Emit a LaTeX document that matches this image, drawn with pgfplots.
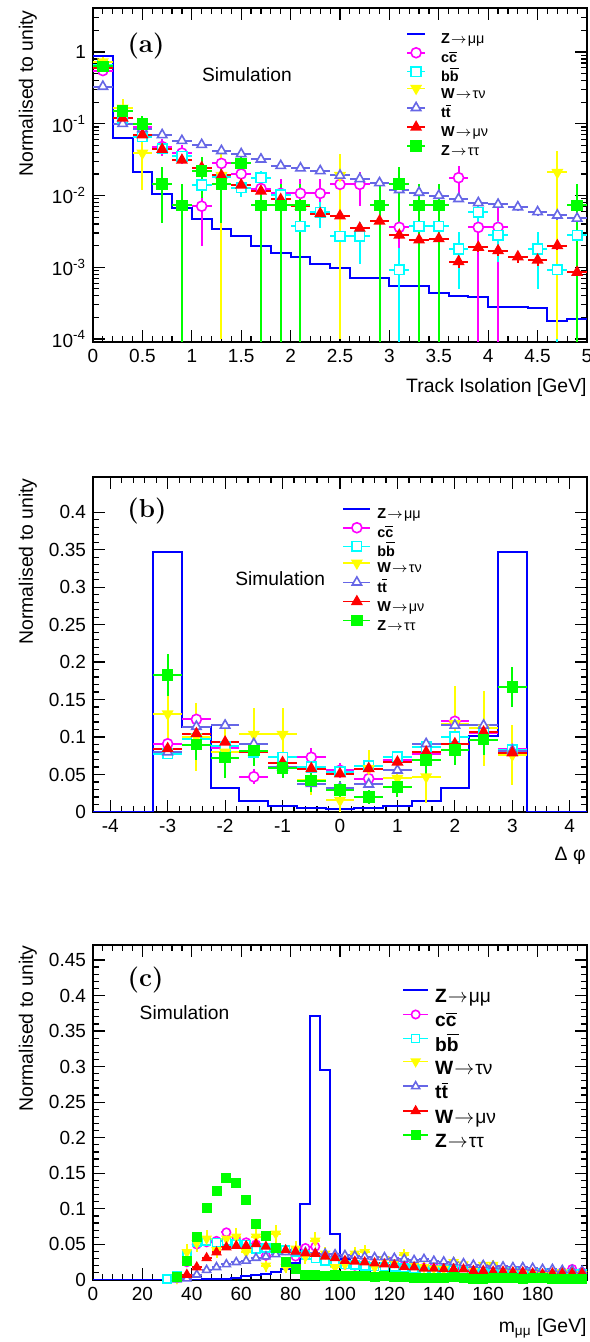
\documentclass[border=0pt]{standalone}
\usepackage{fontspec}
\usepackage{pgfplots}
\pgfplotsset{compat=1.18}
\newfontfamily\arial{Liberation Sans}
\newcommand{\ar}{\kern0.5pt$\rightarrow$\kern0.5pt}
\definecolor{zmm}{RGB}{0,0,255}
\definecolor{ccol}{RGB}{255,0,255}
\definecolor{bcol}{RGB}{0,255,255}
\definecolor{wtcol}{RGB}{255,255,0}
\definecolor{ttcol}{RGB}{102,102,230}
\definecolor{wmcol}{RGB}{255,0,0}
\definecolor{ztcol}{RGB}{0,255,0}
\pgfplotsset{
  common/.style={
    scale only axis, width=247pt, anchor=south west,
    axis line style={line width=0.75pt},
    tick style={black, line width=0.6pt},
    major tick length=6pt, minor tick length=3pt,
    tick label style={font=\arial\fontsize{9.5}{11}\selectfont},
    /pgf/number format/assume math mode=true,
    legend cell align=left,
  },
  sC/.style={only marks, ccol, mark=*, mark size=#1, mark options={fill=white, solid}, line width=0.8pt},
  sB/.style={only marks, bcol, mark=square*, mark size=#1, mark options={fill=white, solid}, line width=0.8pt},
  sWT/.style={only marks, wtcol, mark=triangle*, mark size=#1, mark options={fill=wtcol, rotate=180, solid}, line width=0.8pt},
  sTT/.style={only marks, ttcol, mark=triangle*, mark size=#1, mark options={fill=white, solid}, line width=0.8pt},
  sWM/.style={only marks, wmcol, mark=triangle*, mark size=#1, mark options={fill=wmcol, solid}, line width=0.8pt},
  sZT/.style={only marks, ztcol, mark=square*, mark size=#1, mark options={fill=ztcol, solid}, line width=0.8pt},
  ebxy/.style={/pgfplots/error bars/x dir=both, /pgfplots/error bars/x fixed=#1,
    /pgfplots/error bars/y dir=both, /pgfplots/error bars/y explicit,
    /pgfplots/error bars/error mark=none, /pgfplots/error bars/error bar style={line width=1pt, solid}},
  ebx/.style={/pgfplots/error bars/x dir=both, /pgfplots/error bars/x fixed=#1,
    /pgfplots/error bars/error mark=none, /pgfplots/error bars/error bar style={line width=1pt, solid}},
}
\begin{document}
\begin{tikzpicture}
\path[use as bounding box] (0,0) rectangle (294.5pt,671pt);

%================ (a) =================
\begin{axis}[common, at={(46.5pt,500pt)}, height=167pt,
  ymode=log, xmin=0, xmax=5, ymin=9.1e-5, ymax=4.1,
  xtick={0,0.5,1,1.5,2,2.5,3,3.5,4,4.5,5},
  xticklabels={0,0.5,1,1.5,2,2.5,3,3.5,4,4.5,5},
  minor x tick num=4,
  ytick={1e-4,1e-3,1e-2,1e-1,1},
  yticklabels={10\textsuperscript{-4},10\textsuperscript{-3},10\textsuperscript{-2},10\textsuperscript{-1},1},
  minor ytick={2e-4,3e-4,4e-4,5e-4,6e-4,7e-4,8e-4,9e-4,2e-3,3e-3,4e-3,5e-3,6e-3,7e-3,8e-3,9e-3,2e-2,3e-2,4e-2,5e-2,6e-2,7e-2,8e-2,9e-2,0.2,0.3,0.4,0.5,0.6,0.7,0.8,0.9,2,3,4},
  legend style={at={(0.633,0.931)}, anchor=north west, draw=none, fill=none, inner sep=0pt,
    font=\arial\fontsize{7.2}{8.6}\selectfont, nodes={inner sep=0pt, text height=6pt, text depth=1.5pt},
    row sep=0.67pt, /tikz/every odd column/.append style={column sep=7.5pt}},
  legend image code/.code={\draw[#1,mark=none] (0pt,2.6pt) -- (9pt,2.6pt); \draw[#1] plot coordinates {(4.5pt,2.6pt)};},
]
\addplot[zmm, line width=1pt, const plot] table {
x y
0 0.88
0.2 0.064
0.4 0.021
0.6 0.0106
0.8 0.0066
1.0 0.0047
1.2 0.0034
1.4 0.0027
1.6 0.0020
1.8 0.0016
2.0 0.00138
2.2 0.00111
2.4 0.00099
2.6 0.00072
2.8 0.0007
3.0 0.00055
3.2 0.00054
3.4 0.00044
3.6 0.0004
3.8 0.00039
4.0 0.00028
4.2 0.00028
4.4 0.00027
4.6 0.00018
4.8 0.00019
5.0 0.00019
};
\addlegendentry{\textbf{Z}\ar μμ}
\addplot[sC=2.5pt, ebxy=0.1] table[x=x, y=y, y error plus=ep, y error minus=em] {
x y ep em
0.1 0.55 0.045 0.045
0.3 0.12 0.021 0.021
0.5 0.09 0.018 0.018
0.7 0.048 0.013 0.013
0.9 0.039 0.0118 0.0118
1.1 0.0071 0.0051 0.0051
1.3 0.028 0.010 0.010
1.5 0.020 0.0085 0.0085
1.7 0.0125 0.0067 0.0067
1.9 0.0107 0.0062 0.0062
2.1 0.0107 0.0062 0.0062
2.3 0.0107 0.0062 0.0062
2.5 0.0143 0.0072 0.0072
2.7 0.0143 0.0072 0.0072
3.1 0.0036 0.0036 0.00359
3.7 0.0177 0.008 0.008
3.9 0.0036 0.0036 0.00359
4.1 0.0036 0.0036 0.00359
};
\addlegendentry{\textbf{c}$\overline{\textbf{c}}$}
\addplot[sB=2.4pt, ebxy=0.1] table[x=x, y=y, y error plus=ep, y error minus=em] {
x y ep em
0.1 0.65 0.025 0.025
0.3 0.12 0.0106 0.0106
0.5 0.066 0.0078 0.0078
0.7 0.045 0.0065 0.0065
0.9 0.035 0.0057 0.0057
1.1 0.014 0.0036 0.0036
1.3 0.018 0.0041 0.0041
1.5 0.0128 0.0034 0.0034
1.7 0.0176 0.0040 0.0040
1.9 0.0103 0.0031 0.0031
2.1 0.0037 0.0019 0.0019
2.3 0.0058 0.0023 0.0023
2.5 0.0027 0.0016 0.0016
2.7 0.0027 0.0016 0.0016
3.1 0.00093 0.00093 0.00092
3.3 0.0037 0.0019 0.0019
3.5 0.0037 0.0019 0.0019
3.7 0.0018 0.0013 0.0013
3.9 0.0058 0.0023 0.0023
4.1 0.0028 0.0016 0.0016
4.5 0.0018 0.0013 0.0013
4.7 0.00093 0.00093 0.00092
4.9 0.0028 0.0016 0.0016
};
\addlegendentry{\textbf{b}$\overline{\textbf{b}}$}
\addplot[sWT=2.7pt, ebxy=0.1] table[x=x, y=y, y error plus=ep, y error minus=em] {
x y ep em
0.1 0.73 0.118 0.118
0.3 0.165 0.056 0.056
0.5 0.039 0.027 0.027
1.3 0.019 0.019 0.0189
2.5 0.019 0.019 0.0189
4.7 0.021 0.021 0.0209
};
\addlegendentry{\textbf{W}\ar τν}
\addplot[sTT=2.7pt, ebxy=0.1] table[x=x, y=y, y error plus=ep, y error minus=em] {
x y ep em
0.1 0.33 0.006 0.006
0.3 0.10 0.003 0.003
0.5 0.085 0.003 0.003
0.7 0.070 0.0025 0.0025
0.9 0.058 0.0022 0.0022
1.1 0.051 0.002 0.002
1.3 0.042 0.0019 0.0019
1.5 0.038 0.0018 0.0018
1.7 0.032 0.0016 0.0016
1.9 0.026 0.0015 0.0015
2.1 0.024 0.0014 0.0014
2.3 0.022 0.0013 0.0013
2.5 0.019 0.0012 0.0012
2.7 0.017 0.0012 0.0012
2.9 0.015 0.0011 0.0011
3.1 0.012 0.001 0.001
3.3 0.011 0.001 0.001
3.5 0.010 0.0009 0.0009
3.7 0.0090 0.0009 0.0009
3.9 0.0079 0.0008 0.0008
4.1 0.0075 0.0008 0.0008
4.3 0.0069 0.0008 0.0008
4.5 0.0059 0.0007 0.0007
4.7 0.0053 0.0007 0.0007
4.9 0.0048 0.0007 0.0007
};
\addlegendentry{\textbf{t}$\overline{\textbf{t}}$}
\addplot[sWM=2.7pt, ebxy=0.1] table[x=x, y=y, y error plus=ep, y error minus=em] {
x y ep em
0.1 0.60 0.0049 0.0049
0.3 0.12 0.0022 0.0022
0.5 0.07 0.0017 0.0017
0.7 0.044 0.0013 0.0013
0.9 0.031 0.0011 0.0011
1.1 0.0245 0.001 0.001
1.3 0.019 0.00087 0.00087
1.5 0.014 0.00075 0.00075
1.7 0.0115 0.00068 0.00068
1.9 0.0088 0.00059 0.00059
2.1 0.0071 0.00053 0.00053
2.3 0.0056 0.00047 0.00047
2.5 0.0052 0.00046 0.00046
2.7 0.0035 0.00037 0.00037
2.9 0.0044 0.00042 0.00042
3.1 0.0028 0.00033 0.00033
3.3 0.0024 0.00031 0.00031
3.5 0.0025 0.00032 0.00032
3.7 0.0012 0.00022 0.00022
3.9 0.0019 0.00028 0.00028
4.1 0.0017 0.00026 0.00026
4.3 0.0014 0.00024 0.00024
4.5 0.00126 0.00022 0.00022
4.7 0.0020 0.00028 0.00028
4.9 0.00085 0.00018 0.00018
};
\addlegendentry{\textbf{W}\ar μν}
\addplot[sZT=2.5pt, ebxy=0.1] table[x=x, y=y, y error plus=ep, y error minus=em] {
x y ep em
0.1 0.63 0.068 0.068
0.3 0.15 0.033 0.033
0.5 0.10 0.027 0.027
0.7 0.0145 0.0103 0.0103
0.9 0.0073 0.0073 0.00729
1.1 0.022 0.0127 0.0127
1.3 0.0145 0.0103 0.0103
1.5 0.028 0.0143 0.0143
1.7 0.0073 0.0073 0.00729
1.9 0.0073 0.0073 0.00729
2.1 0.0073 0.0073 0.00729
2.9 0.0073 0.0073 0.00729
3.1 0.0145 0.0103 0.0103
3.3 0.0073 0.0073 0.00729
3.5 0.0073 0.0073 0.00729
4.9 0.0073 0.0073 0.00729
};
\addlegendentry{\textbf{Z}\ar ττ}
\end{axis}

%================ (b) =================
\begin{axis}[common, at={(46.5pt,265pt)}, height=167.5pt,
  xmin=-4.3, xmax=4.3, ymin=0, ymax=0.447,
  xtick={-4,-3,-2,-1,0,1,2,3,4}, xticklabels={-4,-3,-2,-1,0,1,2,3,4},
  minor x tick num=4,
  ytick={0,0.05,0.1,0.15,0.2,0.25,0.3,0.35,0.4},
  yticklabels={0,0.05,0.1,0.15,0.2,0.25,0.3,0.35,0.4},
  minor y tick num=4,
  legend style={at={(0.504,0.913)}, anchor=north west, draw=none, fill=none, inner sep=0pt,
    font=\arial\fontsize{7.2}{8.6}\selectfont, nodes={inner sep=0pt, text height=6pt, text depth=1.5pt},
    row sep=0.6pt, /tikz/every odd column/.append style={column sep=3pt}},
  legend image code/.code={\draw[#1,mark=none] (0pt,2.6pt) -- (13.5pt,2.6pt); \draw[#1] plot coordinates {(6.75pt,2.6pt)};},
]
\addplot[zmm, line width=1pt, const plot] coordinates {
(-4.3,0) (-3.25,0.347) (-2.75,0.114) (-2.25,0.032) (-1.75,0.0143) (-1.25,0.008) (-0.75,0.0053) (-0.25,0.0045) (0.25,0.0053) (0.75,0.008) (1.25,0.0143) (1.75,0.032) (2.25,0.101) (2.75,0.347) (3.25,0) (4.3,0)};
\addlegendentry{\textbf{Z}\ar μμ}
\addplot[sC=2.5pt, ebxy=0.25] table[x=x, y=y, y error=e] {
x y e
-3 0.091 0.01
-2.5 0.1236 0.015
-2 0.085 0.012
-1.5 0.047 0.01
-1 0.060 0.01
-0.5 0.073 0.012
0 0.0556 0.01
0.5 0.0445 0.01
1 0.070 0.01
1.5 0.078 0.012
2 0.121 0.015
2.5 0.105 0.014
3 0.0836 0.01
};
\addlegendentry{\textbf{c}$\overline{\textbf{c}}$}
\addplot[sB=2.4pt, ebxy=0.25] table[x=x, y=y, y error=e] {
x y e
-3 0.078 0.005
-2.5 0.098 0.006
-2 0.0876 0.005
-1.5 0.080 0.005
-1 0.073 0.005
-0.5 0.060 0.005
0 0.054 0.004
0.5 0.062 0.005
1 0.074 0.005
1.5 0.087 0.005
2 0.100 0.006
2.5 0.107 0.006
3 0.083 0.005
};
\addlegendentry{\textbf{b}$\overline{\textbf{b}}$}
\addplot[sWT=2.7pt, ebxy=0.25] table[x=x, y=y, y error=e] {
x y e
-3 0.131 0.045
-2.5 0.10 0.045
-2 0.08 0.035
-1.5 0.1035 0.035
-1 0.1035 0.035
-0.5 0.043 0.02
0 0.0155 0.015
0.5 0.058 0.025
1 0.045 0.02
1.5 0.047 0.035
2 0.118 0.05
2.5 0.112 0.05
3 0.076 0.04
};
\addlegendentry{\textbf{W}\ar τν}
\addplot[sTT=2.7pt, ebxy=0.25] table[x=x, y=y, y error=e] {
x y e
-3 0.080 0.004
-2.5 0.114 0.004
-2 0.1156 0.004
-1.5 0.091 0.004
-1 0.060 0.003
-0.5 0.038 0.003
0 0.032 0.003
0.5 0.037 0.003
1 0.0556 0.003
1.5 0.091 0.004
2 0.1156 0.004
2.5 0.1156 0.004
3 0.082 0.004
};
\addlegendentry{\textbf{t}$\overline{\textbf{t}}$}
\addplot[sWM=2.7pt, ebxy=0.25] table[x=x, y=y, y error=e] {
x y e
-3 0.0845 0.003
-2.5 0.1045 0.003
-2 0.0933 0.003
-1.5 0.080 0.003
-1 0.066 0.003
-0.5 0.058 0.003
0 0.051 0.003
0.5 0.058 0.003
1 0.0667 0.003
1.5 0.080 0.003
2 0.091 0.003
2.5 0.1067 0.003
3 0.079 0.003
};
\addlegendentry{\textbf{W}\ar μν}
\addplot[sZT=2.5pt, ebxy=0.25] table[x=x, y=y, y error=e] {
x y e
-3 0.183 0.028
-2.5 0.090 0.02
-2 0.0725 0.027
-1.5 0.082 0.02
-1 0.059 0.013
-0.5 0.042 0.015
0 0.029 0.013
0.5 0.020 0.01
1 0.033 0.013
1.5 0.069 0.02
2 0.083 0.02
2.5 0.0965 0.02
3 0.167 0.027
};
\addlegendentry{\textbf{Z}\ar ττ}
\end{axis}

%================ (c) =================
\begin{axis}[common, at={(46.5pt,31pt)}, height=167.5pt,
  xmin=0, xmax=200, ymin=0, ymax=0.471,
  xtick={0,20,40,60,80,100,120,140,160,180,200},
  xticklabels={0,20,40,60,80,100,120,140,160,180,{}},
  minor x tick num=4,
  ytick={0,0.05,0.1,0.15,0.2,0.25,0.3,0.35,0.4,0.45},
  yticklabels={0,0.05,0.1,0.15,0.2,0.25,0.3,0.35,0.4,0.45},
  minor y tick num=4,
  legend style={at={(0.625,0.875)}, anchor=north west, draw=none, fill=none, inner sep=0pt,
    font=\arial\fontsize{9.6}{11}\selectfont, nodes={inner sep=0pt, text height=7.7pt, text depth=2pt},
    row sep=1.8pt, /tikz/every odd column/.append style={column sep=3pt}},
  legend image code/.code={\draw[#1,mark=none] (0pt,3.4pt) -- (12.5pt,3.4pt); \draw[#1] plot coordinates {(6.25pt,3.4pt)};},
]
\addplot[zmm, line width=1pt, const plot] coordinates {
(0,0) (40,0.0005) (44,0.001) (48,0.0015) (52,0.002) (56,0.003) (60,0.005) (64,0.007) (68,0.0085) (72,0.011) (76,0.015) (80,0.024) (84,0.107) (88,0.371) (92,0.295) (96,0.064) (100,0.030) (104,0.018) (108,0.012) (112,0.009) (116,0.007) (120,0.006) (124,0.0055) (128,0.005) (132,0.0045) (136,0.004) (140,0.0038) (144,0.0035) (148,0.0033) (152,0.003) (156,0.0028) (160,0.0027) (164,0.0025) (168,0.0023) (172,0.0022) (176,0.0021) (180,0.002) (184,0.0019) (188,0.0018) (192,0.0017) (196,0.0016) (200,0.0016)};
\addlegendentry{\textbf{Z}\ar μμ}
\addplot[sC=2.1pt, ebx=2, /pgfplots/error bars/y dir=both, /pgfplots/error bars/y fixed=0.004] table {
x y
34 0.003
38 0.025
42 0.050
46 0.053
50 0.055
54 0.067
58 0.056
62 0.053
66 0.050
70 0.034
74 0.042
78 0.042
82 0.033
86 0.045
90 0.047
94 0.033
98 0.025
102 0.0215
106 0.020
110 0.022
114 0.020
118 0.020
122 0.027
126 0.020
130 0.018
134 0.017
138 0.018
142 0.016
146 0.017
150 0.015
154 0.014
158 0.014
162 0.013
166 0.014
170 0.012
174 0.012
178 0.011
182 0.011
186 0.010
190 0.011
194 0.0155
198 0.011
};
\addlegendentry{\textbf{c}$\overline{\textbf{c}}$}
\addplot[sB=2pt, ebx=2, /pgfplots/error bars/y dir=both, /pgfplots/error bars/y fixed=0.002] table {
x y
30 0.001
34 0.006
38 0.0366
42 0.0535
46 0.055
50 0.053
54 0.055
58 0.051
62 0.050
66 0.044
70 0.045
74 0.044
78 0.042
82 0.039
86 0.035
90 0.030
94 0.027
98 0.025
102 0.022
106 0.021
110 0.020
114 0.019
118 0.018
122 0.018
126 0.017
130 0.016
134 0.015
138 0.015
142 0.014
146 0.014
150 0.013
154 0.012
158 0.012
162 0.012
166 0.011
170 0.011
174 0.010
178 0.010
182 0.0095
186 0.009
190 0.009
194 0.0085
198 0.0085
};
\addlegendentry{\textbf{b}$\overline{\textbf{b}}$}
\addplot[sWT=2.3pt, ebxy=2] table[x=x, y=y, y error=e] {
x y e
34 0.002 0.002
38 0.039 0.012
42 0.0516 0.012
46 0.058 0.012
50 0.042 0.011
54 0.058 0.012
58 0.061 0.012
62 0.039 0.011
66 0.061 0.012
70 0.020 0.009
74 0.065 0.013
78 0.018 0.008
82 0.044 0.011
86 0.033 0.01
90 0.0553 0.012
94 0.037 0.01
98 0.018 0.008
102 0.022 0.008
106 0.037 0.01
110 0.039 0.01
114 0.018 0.007
118 0.029 0.008
122 0.025 0.008
126 0.035 0.009
130 0.022 0.007
134 0.018 0.007
138 0.016 0.006
142 0.0155 0.006
146 0.025 0.007
150 0.022 0.007
154 0.014 0.006
158 0.021 0.007
162 0.021 0.007
166 0.013 0.006
170 0.012 0.005
174 0.011 0.005
178 0.011 0.005
182 0.009 0.005
186 0.009 0.005
190 0.011 0.005
194 0.008 0.004
198 0.008 0.004
};
\addlegendentry{\textbf{W}\ar τν}
\addplot[sTT=2.3pt, ebx=2] table {
x y
34 0.0005
38 0.002
42 0.0075
46 0.014
50 0.018
54 0.022
58 0.025
62 0.027
66 0.031
70 0.033
74 0.036
78 0.039
82 0.039
86 0.039
90 0.0375
94 0.037
98 0.036
102 0.035
106 0.034
110 0.033
114 0.032
118 0.032
122 0.031
126 0.0295
130 0.028
134 0.0295
138 0.027
142 0.026
146 0.025
150 0.0235
154 0.0215
158 0.021
162 0.0197
166 0.019
170 0.018
174 0.018
178 0.017
182 0.0155
186 0.0155
190 0.014
194 0.014
198 0.013
};
\addlegendentry{\textbf{t}$\overline{\textbf{t}}$}
\addplot[sWM=2.3pt, ebx=2] table {
x y
34 0.003
38 0.0075
42 0.018
46 0.031
50 0.039
54 0.046
58 0.048
62 0.048
66 0.0505
70 0.047
74 0.0437
78 0.042
82 0.040
86 0.0375
90 0.037
94 0.033
98 0.031
102 0.027
106 0.026
110 0.025
114 0.0235
118 0.022
122 0.021
126 0.0185
130 0.018
134 0.016
138 0.016
142 0.0155
146 0.0155
150 0.015
154 0.013
158 0.013
162 0.012
166 0.012
170 0.011
174 0.011
178 0.0095
182 0.0085
186 0.0095
190 0.0095
194 0.0095
198 0.0095
};
\addlegendentry{\textbf{W}\ar μν}
\addplot[sZT=2.1pt, ebx=2] table {
x y
34 0.004
38 0.027
42 0.061
46 0.101
50 0.125
54 0.144
58 0.137
62 0.112
66 0.079
70 0.062
74 0.045
78 0.025
82 0.0155
86 0.0075
90 0.0075
94 0.006
98 0.007
102 0.0055
106 0.0055
110 0.005
114 0.004
118 0.005
122 0.004
126 0.004
130 0.0035
134 0.0035
138 0.0035
142 0.0035
146 0.0045
150 0.0035
154 0.002
158 0.002
162 0.003
166 0.003
170 0.003
174 0.0015
178 0.003
182 0.003
186 0.001
190 0.002
194 0.002
198 0.002
};
\addlegendentry{\textbf{Z}\ar ττ}
\end{axis}

%================ annotations (pixel coordinates) =================
\begin{scope}[x=0.5pt, y=-0.5pt, shift={(0pt,671pt)}]
\node[font=\bfseries\fontsize{13}{15}\selectfont, inner sep=0pt] at (146,46.5) {(a)};
\node[font=\bfseries\fontsize{13}{15}\selectfont, inner sep=0pt] at (147,511.5) {(b)};
\node[font=\bfseries\fontsize{13}{15}\selectfont, inner sep=0pt] at (145.5,980) {(c)};
\node[font=\arial\fontsize{9.6}{11}\selectfont, anchor=base west, inner sep=0pt] at (201.7,81.7) {Simulation};
\node[font=\arial\fontsize{9.6}{11}\selectfont, anchor=base west, inner sep=0pt] at (235,586) {Simulation};
\node[font=\arial\fontsize{9.6}{11}\selectfont, anchor=base west, inner sep=0pt] at (139.3,1019.3) {Simulation};
\node[font=\arial\fontsize{9.7}{11}\selectfont, anchor=base east, inner sep=0pt] at (587,393) {Track Isolation [GeV]};
\node[font=\arial\fontsize{9.7}{11}\selectfont, anchor=base east, inner sep=0pt] at (586,861) {Δ φ};
\node[font=\arial\fontsize{9.7}{11}\selectfont, anchor=base east, inner sep=0pt] at (587,1332) {m\textsubscript{μμ} [GeV]};
\node[font=\arial\fontsize{9.7}{11}\selectfont, anchor=base east, rotate=90, inner sep=0pt] at (33,10) {Normalised to unity};
\node[font=\arial\fontsize{9.7}{11}\selectfont, anchor=base east, rotate=90, inner sep=0pt] at (33,478) {Normalised to unity};
\node[font=\arial\fontsize{9.7}{11}\selectfont, anchor=base east, rotate=90, inner sep=0pt] at (33,945) {Normalised to unity};
\end{scope}
\end{tikzpicture}
\end{document}
